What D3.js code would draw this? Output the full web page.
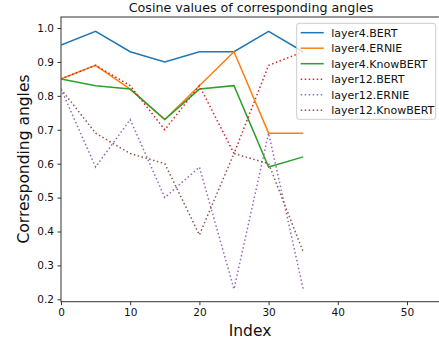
<!DOCTYPE html>
<html>
<head>
<meta charset="utf-8">
<script src="https://cdn.jsdelivr.net/npm/d3@7"></script>
<style>
    body { margin: 0; background: #fff; }
    text { font-family: "DejaVu Sans", sans-serif; fill: #111; }
    .axis path, .axis line { stroke: #333; }
</style>
</head>
<body>
<div id="chart"></div>
<script>
// data
var index = [0, 5, 10, 15, 20, 25, 30, 35];
var seriesNames = ['layer4.BERT', 'layer4.ERNIE', 'layer4.KnowBERT', 'layer12.BERT', 'layer12.ERNIE', 'layer12.KnowBERT'];
var layer4Bert = [0.95, 0.99, 0.93, 0.90, 0.93, 0.93, 0.99, 0.93];
var layer4Ernie = [0.85, 0.89, 0.82, 0.73, 0.83, 0.93, 0.69, 0.69];
var layer4KnowBert = [0.85, 0.83, 0.82, 0.73, 0.82, 0.83, 0.59, 0.62];
var layer12Bert = [0.85, 0.89, 0.83, 0.70, 0.83, 0.63, 0.89, 0.93];
var layer12Ernie = [0.82, 0.59, 0.73, 0.50, 0.59, 0.23, 0.69, 0.23];
var layer12KnowBert = [0.82, 0.69, 0.63, 0.60, 0.39, 0.63, 0.60, 0.34];
var xTicks = [0, 10, 20, 30, 40, 50];
var yTicks = [0.2, 0.3, 0.4, 0.5, 0.6, 0.7, 0.8, 0.9, 1.0];

var allValues = [layer4Bert, layer4Ernie, layer4KnowBert, layer12Bert, layer12Ernie, layer12KnowBert];
var colors = ['#1f77b4', '#ff7f0e', '#2ca02c', '#d62728', '#9467bd', '#8c564b'];
var dotted = [false, false, false, true, true, true];

// size of the svg
var W = 439, H = 343;
var margin = { top: 17, left: 61 };
var plotRight = 441.6, plotBottom = 301.7;

var svg = d3.select('#chart')
    .append('svg')
    .attr('width', W)
    .attr('height', H);

var xScale = d3.scaleLinear().domain([0, 55]).range([margin.left, plotRight]);
var yScale = d3.scaleLinear().domain([0.193, 1.0325]).range([plotBottom, margin.top]);

// frame
svg.append('rect')
    .attr('x', margin.left)
    .attr('y', margin.top)
    .attr('width', plotRight - margin.left)
    .attr('height', plotBottom - margin.top)
    .attr('fill', 'none')
    .attr('stroke', '#333')
    .attr('stroke-width', 1);

// axes
var xAxis = d3.axisBottom(xScale).tickValues(xTicks).tickSize(3.5).tickPadding(3.5).tickFormat(d3.format('d'));
var yAxis = d3.axisLeft(yScale).tickValues(yTicks).tickSize(3.5).tickPadding(3.5).tickFormat(d3.format('.1f'));

svg.append('g')
    .attr('class', 'x axis')
    .attr('transform', `translate(0,${plotBottom})`)
    .call(xAxis)
    .call(g => g.select('.domain').remove())
    .selectAll('text').style('font-size', '10.5px').style('font-family', 'DejaVu Sans');

svg.append('g')
    .attr('class', 'y axis')
    .attr('transform', `translate(${margin.left},0)`)
    .call(yAxis)
    .call(g => g.select('.domain').remove())
    .selectAll('text').style('font-size', '10.5px').style('font-family', 'DejaVu Sans');

// lines
var line = d3.line()
    .x(function (d, i) { return xScale(index[i]); })
    .y(function (d) { return yScale(d); });

svg.append('clipPath').attr('id', 'clip')
    .append('rect')
    .attr('x', margin.left).attr('y', margin.top)
    .attr('width', plotRight - margin.left).attr('height', plotBottom - margin.top);

svg.append('g')
    .attr('clip-path', 'url(#clip)')
    .selectAll('path')
    .data(allValues)
    .enter()
    .append('path')
    .attr('d', line)
    .attr('fill', 'none')
    .attr('stroke', function (d, i) { return colors[i]; })
    .attr('stroke-width', 1.5)
    .attr('stroke-dasharray', function (d, i) { return dotted[i] ? '1.5,2.5' : null; });

// title and labels
svg.append('text')
    .attr('x', 251)
    .attr('y', 12)
    .attr('text-anchor', 'middle')
    .style('font-size', '12.7px')
    .text('Cosine values of corresponding angles');

svg.append('text')
    .attr('x', 250)
    .attr('y', 336)
    .attr('text-anchor', 'middle')
    .style('font-size', '15.5px')
    .text('Index');

svg.append('text')
    .attr('transform', 'translate(29,159) rotate(-90)')
    .attr('text-anchor', 'middle')
    .style('font-size', '15.5px')
    .text('Corresponding angles');

// legend
var legend = svg.append('g').attr('transform', 'translate(296.7,23.3)');
legend.append('rect')
    .attr('width', 139)
    .attr('height', 96)
    .attr('rx', 2.5)
    .attr('fill', 'rgba(255,255,255,0.8)')
    .attr('stroke', '#ccc')
    .attr('stroke-width', 1);

var rows = legend.selectAll('g.row')
    .data(seriesNames)
    .enter()
    .append('g')
    .attr('class', 'row')
    .attr('transform', function (d, i) { return `translate(0,${9.4 + i * 15.5})`; });

rows.append('line')
    .attr('x1', 4).attr('x2', 27)
    .attr('stroke', function (d, i) { return colors[i]; })
    .attr('stroke-width', 1.5)
    .attr('stroke-dasharray', function (d, i) { return dotted[i] ? '1.5,2.5' : null; });

rows.append('text')
    .attr('x', 34.5)
    .attr('dy', '0.35em')
    .style('font-size', '11px')
    .text(function (d) { return d; });
</script>
</body>
</html>
